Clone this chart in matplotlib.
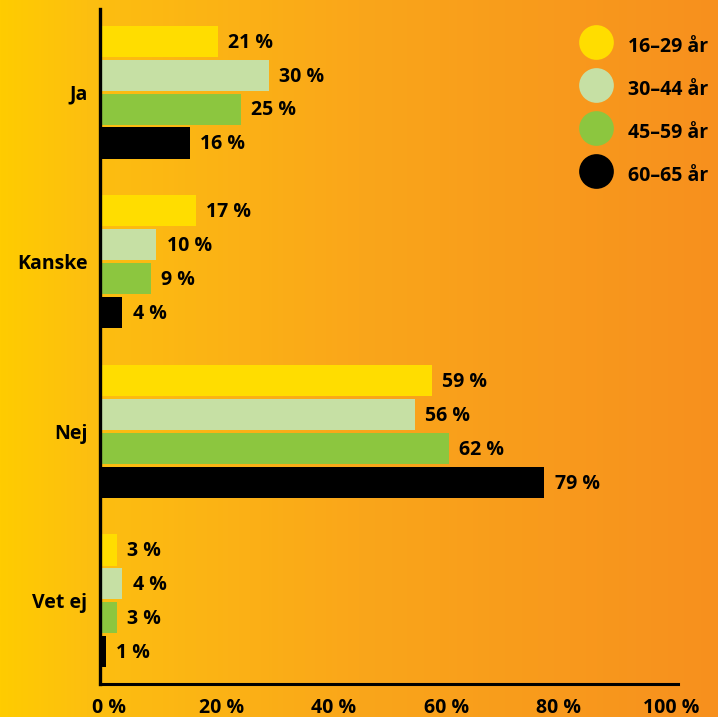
import numpy as np
import matplotlib.pyplot as plt
import matplotlib.transforms as mtransforms
from matplotlib.lines import Line2D
from matplotlib.colors import LinearSegmentedColormap

categories = ['Ja', 'Kanske', 'Nej', 'Vet ej']
series_names = ['16–29 år', '30–44 år', '45–59 år', '60–65 år']
series_colors = ['#FFDD00', '#C6E0A4', '#8CC63F', '#000000']
values = [
    [21, 17, 59, 3],   # 16-29
    [30, 10, 56, 4],   # 30-44
    [25, 9, 62, 3],    # 45-59
    [16, 4, 79, 1],    # 60-65
]
xticks = [0, 20, 40, 60, 80, 100]
xtick_labels = ['0 %', '20 %', '40 %', '60 %', '80 %', '100 %']

plt.rcParams['font.family'] = ['Open Sans', 'DejaVu Sans']
plt.rcParams['font.weight'] = 'bold'
FS = 14

W, H = 718, 717
fig = plt.figure(figsize=(W / 100, H / 100), dpi=100)

# gradient background over the whole figure
bg = fig.add_axes([0, 0, 1, 1], zorder=-1)
grad_cmap = LinearSegmentedColormap.from_list(
    'bg', [(0.0, '#FFCC00'), (0.12, '#FDBF10'), (0.5, '#FAA61A'), (1.0, '#F7901E')])
bg.imshow(np.linspace(0, 1, 256)[None, :], aspect='auto', cmap=grad_cmap,
          extent=[0, 1, 0, 1])
bg.axis('off')

# main axes, placed in pixels
left, right, top, bottom = 100, 678, 9, 684
ax = fig.add_axes([left / W, 1 - bottom / H, (right - left) / W, (bottom - top) / H])
ax.patch.set_alpha(0)

pitch = 0.2
height = 0.183
y_base = np.arange(len(categories))
for i, (name, col, vals) in enumerate(zip(series_names, series_colors, values)):
    ypos = y_base + (i - 1.5) * pitch
    ax.barh(ypos, vals, height=height, color=col, zorder=2)
    for y, v in zip(ypos, vals):
        ax.annotate(f'{v} %', (v, y), xytext=(7.5, -1), textcoords='offset points',
                    ha='left', va='center', fontsize=FS, fontweight='bold')

ax.set_xlim(0, 102.8)
ax.set_ylim(3.49, -0.49)
ax.set_yticks(y_base)
ax.set_yticklabels(categories, fontsize=FS, fontweight='bold')
ax.set_xticks(xticks)
ax.set_xticklabels(xtick_labels, fontsize=FS, fontweight='bold')
ax.tick_params(axis='both', length=0)
ax.tick_params(axis='y', pad=9)
ax.tick_params(axis='x', pad=10)
shift = mtransforms.ScaledTranslation(9 / 100, 0, fig.dpi_scale_trans)
for lbl in ax.get_xticklabels():
    lbl.set_transform(lbl.get_transform() + shift)

for s in ['top', 'right']:
    ax.spines[s].set_visible(False)
ax.spines['left'].set_linewidth(2.4)
ax.spines['bottom'].set_linewidth(2.2)
ax.spines['left'].set_zorder(3)

handles = [Line2D([], [], marker='o', ls='', ms=25, color=c, markeredgewidth=0)
           for c in series_colors]
ax.legend(handles, series_names, loc='upper right', bbox_to_anchor=(1.083, 0.993),
          frameon=False, prop={'size': FS, 'weight': 'bold'},
          handlelength=1.6, handleheight=1.9, labelspacing=0.74, handletextpad=0.85)

fig.savefig('out.png', dpi=100)
